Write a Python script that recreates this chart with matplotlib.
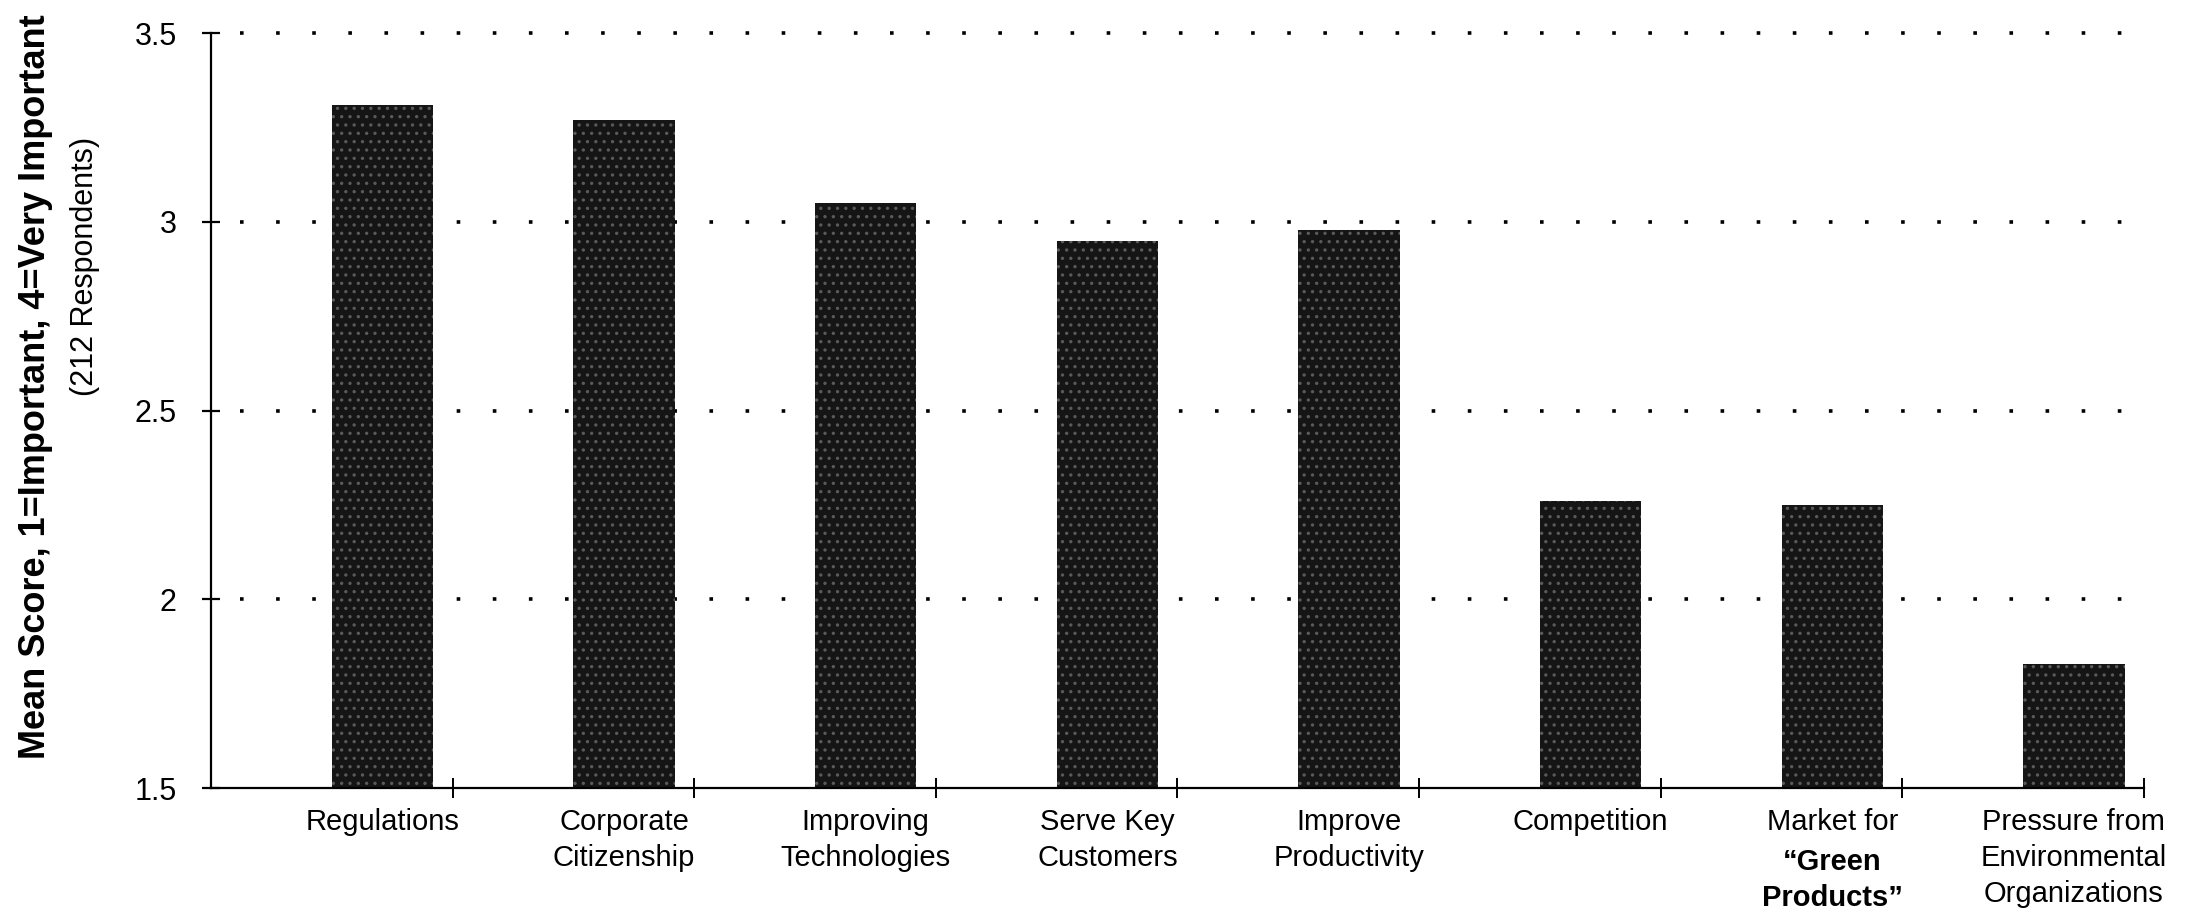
"""
Mean importance score of drivers for environmental action (212 respondents).
Bar chart, dotted grid, black bars.
"""

import matplotlib

matplotlib.use("Agg")
import matplotlib.pyplot as plt
import numpy as np

plt.rcParams["font.family"] = ["Liberation Sans", "DejaVu Sans"]
plt.rcParams["hatch.linewidth"] = 1.2

# data
categories = [
    "Regulations",
    "Corporate\nCitizenship",
    "Improving\nTechnologies",
    "Serve Key\nCustomers",
    "Improve\nProductivity",
    "Competition",
    "Market for",
    "Pressure from\nEnvironmental\nOrganizations",
]
# extra bold lines under a label (only the "Green Products" one has them)
bold_extra = ["", "", "", "", "", "", "\u201cGreen\nProducts\u201d", ""]
scores = [3.31, 3.27, 3.05, 2.95, 2.98, 2.26, 2.25, 1.83]
y_ticks = [1.5, 2.0, 2.5, 3.0, 3.5]
y_tick_labels = ["1.5", "2", "2.5", "3", "3.5"]
grid_levels = [2.0, 2.5, 3.0, 3.5]


def main() -> None:
    fig = plt.figure(figsize=(21.9, 9.24), dpi=100)
    ax = fig.add_axes([0.0963, 0.147, 0.8827, 0.817])

    n = len(categories)
    x = np.arange(n) + 0.71

    for level in grid_levels:
        ax.axhline(level, xmin=0.015, xmax=1.0, color="black", linewidth=2.6,
                   linestyle=(0, (1, 9)), zorder=1, clip_on=False)

    ax.bar(x, [s - 1.5 for s in scores], bottom=1.5, width=0.42,
           color="#151515", edgecolor="#5a5a5a", hatch="..", linewidth=0,
           zorder=2)

    ax.set_xlim(0, n)
    ax.set_ylim(1.5, 3.5)

    ax.spines["top"].set_visible(False)
    ax.spines["right"].set_visible(False)
    ax.spines["left"].set_linewidth(1.6)
    ax.spines["bottom"].set_linewidth(1.6)

    ax.set_yticks(y_ticks)
    ax.set_yticklabels(y_tick_labels, fontsize=22)
    ax.tick_params(axis="y", direction="inout", length=13, width=1.6, pad=18)

    ax.set_xticks(np.arange(1, n + 1))
    ax.set_xticklabels([])
    ax.tick_params(axis="x", direction="inout", length=14, width=1.4)

    fs = 21
    ls = 1.38
    for xi, name, extra in zip(x, categories, bold_extra):
        ax.annotate(name, xy=(xi, 0), xycoords=("data", "axes fraction"),
                    xytext=(0, -14), textcoords="offset points",
                    ha="center", va="top", fontsize=fs, linespacing=ls)
        if extra:
            ax.annotate(extra, xy=(xi, 0), xycoords=("data", "axes fraction"),
                        xytext=(0, -14 - fs * ls), textcoords="offset points",
                        ha="center", va="top", fontsize=fs, linespacing=ls,
                        fontweight="bold")

    fig.text(0.016, 0.582, "Mean Score, 1=Important, 4=Very Important",
             rotation=90, ha="center", va="center", fontsize=26,
             fontweight="bold")
    fig.text(0.039, 0.712, "(212 Respondents)", rotation=90,
             ha="center", va="center", fontsize=22)

    fig.savefig("out.png", dpi=100)


if __name__ == "__main__":
    main()
